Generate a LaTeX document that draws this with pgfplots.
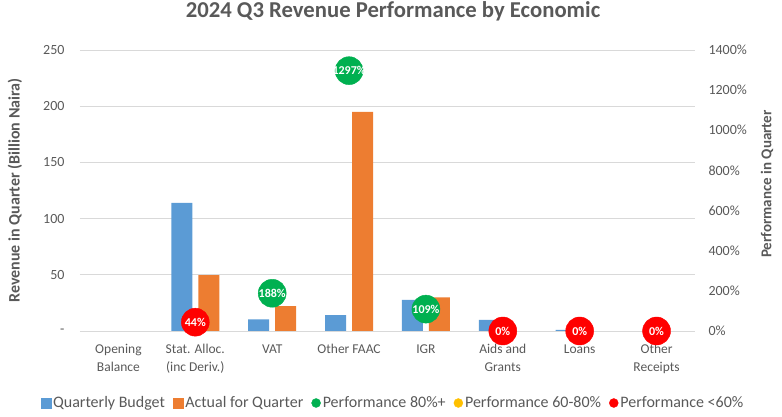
\documentclass[border=0pt]{standalone}
\usepackage{fontspec}
\setmainfont{Carlito}
\usepackage{pgfplots}
\pgfplotsset{compat=1.18}
\definecolor{cblue}{HTML}{5B9BD5}
\definecolor{corange}{HTML}{ED7D31}
\definecolor{cgreen}{HTML}{00B050}
\definecolor{cyellow}{HTML}{FFC000}
\definecolor{cred}{HTML}{FF0000}
\definecolor{ctext}{HTML}{595959}
\definecolor{cgrid}{HTML}{D9D9D9}
\begin{document}
\begin{tikzpicture}[x=1pt,y=1pt]
\useasboundingbox (-80pt,-86pt) rectangle (702pt,331pt);
\begin{axis}[
  at={(0pt,0pt)}, anchor=south west,
  width=615pt, height=281pt, scale only axis,
  xmin=-0.5, xmax=7.5, ymin=0, ymax=250,
  ybar=6pt, bar width=21pt,
  xtick={0,...,7},
  xticklabels={{Opening\\Balance},{Stat. Alloc.\\(inc Deriv.)},VAT,{Other FAAC},IGR,{Aids and\\Grants},Loans,{Other\\Receipts}},
  xticklabel style={align=center, font=\fontsize{13.5}{18}\selectfont, text=ctext, yshift=-10pt},
  ytick={0,50,100,150,200,250},
  yticklabels={-,50,100,150,200,250},
  yticklabel style={font=\fontsize{14}{16}\selectfont, text=ctext, xshift=-12pt},
  major tick length=0pt,
  axis line style={draw=none},
  ymajorgrids, grid style={cgrid, line width=0.8pt},
  title={2024 Q3 Revenue Performance by Economic},
  title style={at={(axis description cs:0.509,1)}, anchor=center, yshift=33pt, font=\fontsize{22.7}{26}\selectfont\bfseries, text=ctext},
  ylabel={Revenue in Quarter (Billion Naira)},
  ylabel style={at={(axis description cs:-0.1057,0.5)}, anchor=center, font=\fontsize{16}{18}\selectfont\bfseries, text=ctext},
]
\addplot[fill=cblue, draw=none] coordinates {(1,114) (2,10.4) (3,14.2) (4,27.6) (5,9.8) (6,1.0)};
\addplot[fill=corange, draw=none] coordinates {(1,49.8) (2,22.2) (3,195) (4,30)};
\end{axis}
\begin{axis}[
  at={(0pt,0pt)}, anchor=south west,
  width=615pt, height=281pt, scale only axis,
  xmin=-0.5, xmax=7.5, ymin=0, ymax=1400,
  axis y line*=right, axis x line=none,
  axis line style={draw=none},
  major tick length=0pt,
  ytick={0,200,...,1400},
  /pgf/number format/assume math mode=true,
  yticklabel={\pgfmathprintnumber[1000 sep={}]{\tick}\%},
  yticklabel style={font=\fontsize{14}{16}\selectfont, text=ctext, xshift=10pt},
  ylabel={Performance in Quarter},
  ylabel style={at={(axis description cs:1.117,0.523)}, anchor=center, font=\fontsize{15}{18}\selectfont\bfseries, text=ctext},
  clip=false,
  legend columns=5,
  legend style={at={(axis description cs:0.509,0)}, anchor=center, yshift=-72pt, draw=none, fill=none,
    font=\fontsize{16}{19}\selectfont, text=ctext, /tikz/every even column/.append style={column sep=6pt}},
  legend cell align=left,
]
\addlegendimage{legend image code/.code={\fill[cblue] (0pt,-5pt) rectangle (10pt,5pt);}}
\addlegendentry{Quarterly Budget}
\addlegendimage{legend image code/.code={\fill[corange] (0pt,-5pt) rectangle (10pt,5pt);}}
\addlegendentry{Actual for Quarter}
\addplot[only marks, mark=*, mark size=14pt, mark options={fill=cgreen, draw=cgreen},
  legend image code/.code={\fill[cgreen] (5pt,0pt) circle (4.5pt);},
  point meta=explicit symbolic, nodes near coords,
  every node near coord/.style={anchor=center, text=white, font=\fontsize{12}{14}\selectfont\bfseries}]
  coordinates {(2,188) [188\%] (3,1297) [1297\%] (4,109) [109\%]};
\addlegendentry{Performance 80\%+}
\addlegendimage{legend image code/.code={\fill[cyellow] (5pt,0pt) circle (4.5pt);}}
\addlegendentry{Performance 60-80\%}
\addplot[only marks, mark=*, mark size=14pt, mark options={fill=cred, draw=cred},
  legend image code/.code={\fill[cred] (5pt,0pt) circle (4.5pt);},
  point meta=explicit symbolic, nodes near coords,
  every node near coord/.style={anchor=center, text=white, font=\fontsize{12}{14}\selectfont\bfseries}]
  coordinates {(1,44) [44\%] (5,0) [0\%] (6,0) [0\%] (7,0) [0\%]};
\addlegendentry{Performance <60\%}
\end{axis}
\end{tikzpicture}
\end{document}
